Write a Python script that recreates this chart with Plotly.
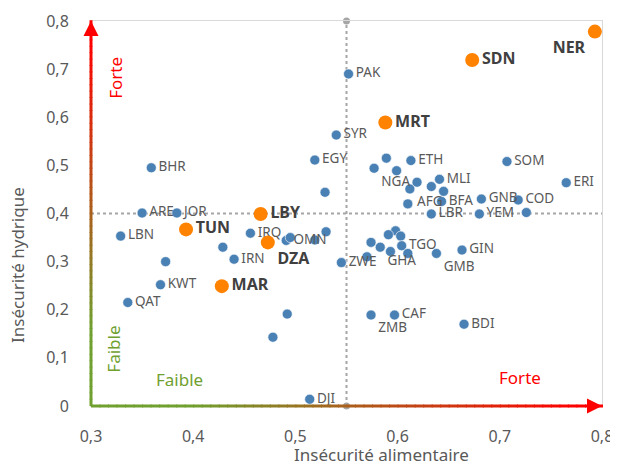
import plotly.graph_objects as go

# Insécurité alimentaire (x) vs insécurité hydrique (y), by country
# highlighted countries (orange, bold labels)
hl_codes = ["NER", "SDN", "MRT", "LBY", "DZA", "TUN", "MAR"]
hl_food = [0.793, 0.673, 0.588, 0.466, 0.473, 0.393, 0.428]
hl_water = [0.778, 0.719, 0.589, 0.399, 0.340, 0.367, 0.249]

# other countries (blue) - "" means no label shown
codes = ["PAK", "SYR", "EGY", "", "NGA", "", "ETH", "SOM", "ERI", "MLI",
         "", "AFG", "", "", "BFA", "", "GNB", "COD", "LBR", "YEM",
         "", "BHR", "", "ARE", "JOR", "LBN", "", "KWT", "QAT", "IRQ",
         "", "IRN", "OMN", "", "", "", "ZWE", "", "", "DJI",
         "ZMB", "CAF", "BDI", "", "", "", "", "GHA", "TGO", "",
         "", "", "GMB", "GIN"]
food = [0.552, 0.540, 0.519, 0.589, 0.577, 0.599, 0.613, 0.707, 0.765, 0.641,
        0.619, 0.612, 0.633, 0.645, 0.643, 0.610, 0.682, 0.718, 0.633, 0.680,
        0.726, 0.359, 0.529, 0.350, 0.384, 0.329, 0.373, 0.368, 0.336, 0.456,
        0.429, 0.440, 0.491, 0.495, 0.519, 0.530, 0.545, 0.492, 0.478, 0.514,
        0.574, 0.597, 0.665, 0.598, 0.591, 0.603, 0.574, 0.583, 0.604, 0.593,
        0.570, 0.610, 0.638, 0.663]
water = [0.690, 0.563, 0.511, 0.515, 0.494, 0.489, 0.510, 0.508, 0.464, 0.471,
         0.465, 0.451, 0.456, 0.446, 0.425, 0.420, 0.430, 0.428, 0.399, 0.399,
         0.402, 0.495, 0.444, 0.401, 0.401, 0.353, 0.300, 0.252, 0.215, 0.359,
         0.330, 0.305, 0.344, 0.350, 0.345, 0.362, 0.298, 0.191, 0.143, 0.014,
         0.189, 0.189, 0.170, 0.364, 0.356, 0.353, 0.340, 0.330, 0.333, 0.321,
         0.310, 0.317, 0.317, 0.324]

x_threshold = 0.55
y_threshold = 0.4
x_range = [0.3, 0.8]
y_range = [0, 0.8]

# label placement (style only)
label_pos = {"NER": "bottom left", "DZA": "bottom right", "NGA": "bottom right",
             "AFG": "bottom right", "ZMB": "bottom right", "GHA": "bottom right",
             "GMB": "bottom right"}

FONT = "Noto Sans"
GREY = "#595959"
BLUE = "#4A81B5"
ORANGE = "#FF8200"
GREEN = (112, 160, 48)
RED = (255, 0, 0)

fig = go.Figure()

# dotted threshold lines
fig.add_trace(go.Scatter(x=[x_threshold, x_threshold], y=y_range, mode="lines+markers",
                         line=dict(color="#A6A6A6", width=2, dash="dot"),
                         marker=dict(size=7, color="#A6A6A6"), hoverinfo="skip", cliponaxis=False))
fig.add_trace(go.Scatter(x=x_range, y=[y_threshold, y_threshold], mode="lines",
                         line=dict(color="#A6A6A6", width=2, dash="dot"), hoverinfo="skip"))

fig.add_trace(go.Scatter(
    x=food, y=water, text=codes, mode="markers+text",
    textposition=[label_pos.get(c, "middle right") for c in codes],
    textfont=dict(family=FONT, size=13.5, color=GREY),
    marker=dict(size=10, color=BLUE, line=dict(color="white", width=0.6)),
    hoverinfo="skip", cliponaxis=False))

fig.add_trace(go.Scatter(
    x=hl_food, y=hl_water, text=hl_codes, mode="markers+text",
    textposition=[label_pos.get(c, "middle right") for c in hl_codes],
    textfont=dict(family=FONT, size=16, color="#404040", weight="bold"),
    marker=dict(size=14, color=ORANGE),
    hoverinfo="skip", cliponaxis=False))


def mix(t):
    # green -> red gradient, flat green at the start
    t = min(max((t - 0.2) / 0.75, 0), 1)
    c = [round(GREEN[i] + (RED[i] - GREEN[i]) * t) for i in range(3)]
    return "rgb(%d,%d,%d)" % tuple(c)


shapes = []
n = 60
for i in range(n):
    a, b = i / n, (i + 1) / n
    col = mix((a + b) / 2)
    shapes.append(dict(type="line", xref="paper", yref="paper", x0=0, x1=0, y0=a, y1=b + 0.002,
                       line=dict(color=col, width=3), layer="above"))
    shapes.append(dict(type="line", xref="paper", yref="paper", y0=0, y1=0, x0=a, x1=b + 0.002,
                       line=dict(color=col, width=3), layer="above"))

annotations = [
    dict(x=x_range[0], y=y_range[1], ax=0, ay=10, text="", showarrow=True, arrowhead=2,
         arrowsize=1, arrowwidth=3, arrowcolor="red", standoff=0),
    dict(x=x_range[1], y=y_range[0], ax=-10, ay=0, text="", showarrow=True, arrowhead=2,
         arrowsize=1, arrowwidth=3, arrowcolor="red", standoff=0),
    dict(x=0.3245, y=0.682, text="Forte", textangle=-90, showarrow=False,
         font=dict(family=FONT, size=17, color="red")),
    dict(x=0.322, y=0.118, text="Faible", textangle=-90, showarrow=False,
         font=dict(family=FONT, size=17, color="rgb(112,160,48)")),
    dict(x=0.387, y=0.056, text="Faible", showarrow=False,
         font=dict(family=FONT, size=17, color="rgb(112,160,48)")),
    dict(x=0.720, y=0.060, text="Forte", showarrow=False,
         font=dict(family=FONT, size=17, color="red")),
    # axis titles
    dict(xref="paper", yref="paper", x=-0.145, y=0.366, xanchor="center", yanchor="middle",
         text="Insécurité hydrique", textangle=-90, showarrow=False,
         font=dict(family=FONT, size=17, color=GREY)),
    dict(xref="paper", yref="paper", x=0.569, y=-0.127, xanchor="center", yanchor="middle",
         text="Insécurité alimentaire", showarrow=False,
         font=dict(family=FONT, size=17, color=GREY)),
]

fig.update_xaxes(range=x_range, tick0=0.3, dtick=0.1, showgrid=False, zeroline=False,
                 showline=True, linecolor="#D9D9D9", linewidth=1, mirror=True, automargin=False,
                 ticks="", ticklabelstandoff=16, tickfont=dict(family=FONT, size=16, color=GREY))
fig.update_yaxes(range=y_range, dtick=0.1, showgrid=False, zeroline=False,
                 showline=True, linecolor="#D9D9D9", linewidth=1, mirror=True, automargin=False,
                 ticks="", ticklabelstandoff=18, tickfont=dict(family=FONT, size=16, color=GREY))

# the page body adds an 8px offset, so the figure is 8px smaller than the window
fig.update_layout(
    width=610, height=461,
    margin=dict(l=83, r=16, t=13, b=63, autoexpand=False),
    plot_bgcolor="white", paper_bgcolor="white",
    separators=", ",
    showlegend=False,
    shapes=shapes,
    annotations=annotations,
)

fig.write_html("out.html")
